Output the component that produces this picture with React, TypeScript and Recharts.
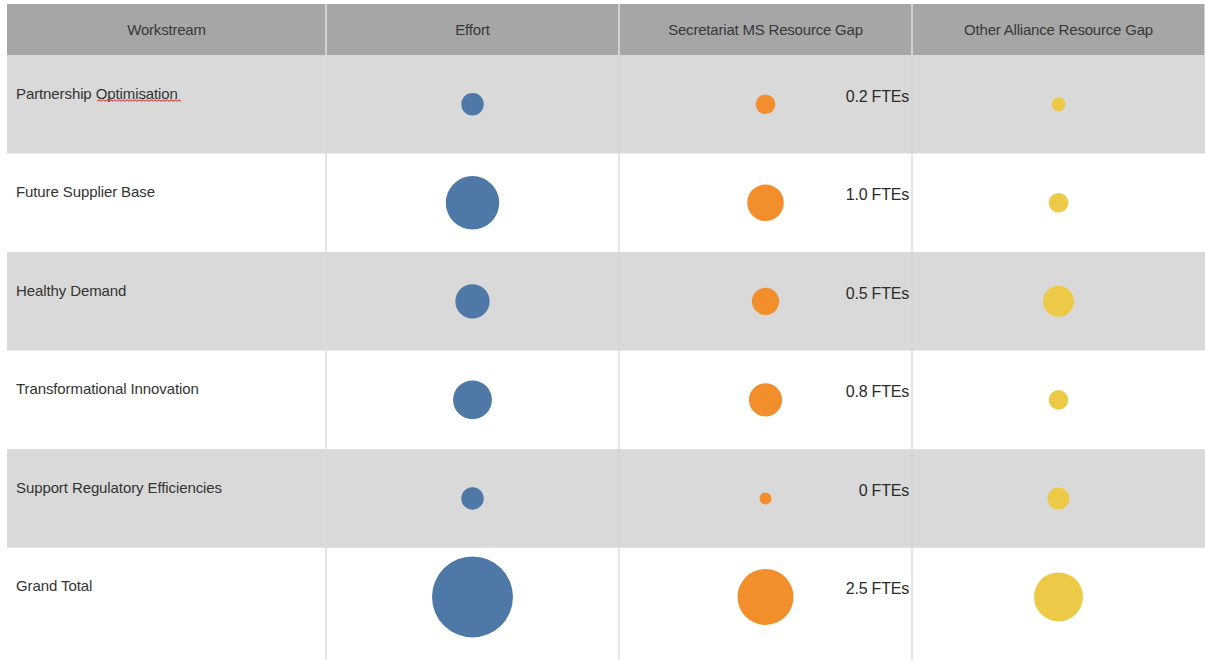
import { ScatterChart, Scatter, XAxis, YAxis, ZAxis, ReferenceArea, ReferenceLine } from "recharts";

const workstreams = [
  "Partnership Optimisation",
  "Future Supplier Base",
  "Healthy Demand",
  "Transformational Innovation",
  "Support Regulatory Efficiencies",
  "Grand Total",
];
const columns = ["Effort", "Secretariat MS Resource Gap", "Other Alliance Resource Gap"];
const effort = [1.5, 8.5, 3.5, 4.5, 1.5, 19.5];
const secretariatFtes = [0.2, 1.0, 0.5, 0.8, 0, 2.5];
const otherAllianceGap = [0.1, 0.2, 0.5, 0.2, 0.25, 1.25];

const toPoints = (values: number[], col: number) =>
  values.map((value, row) => ({ col, row, value }));

const effortData = toPoints(effort, 1);
const secretariatData = toPoints(secretariatFtes, 2);
const otherData = toPoints(otherAllianceGap, 3);

const W = 1205;
const H = 660;
const TABLE_LEFT = 7;
const TABLE_TOP = 4;
const HEADER_H = 51;
const LABEL_W = 319;
const PLOT_W = W - TABLE_LEFT - LABEL_W;
const COL_W = PLOT_W / 3;
const Y_DOMAIN: [number, number] = [-0.5, 5.64];
const ROW_H = (H - TABLE_TOP - HEADER_H) / (Y_DOMAIN[1] - Y_DOMAIN[0]);

const BAND = "#d9d9d9";
const HEADER_BG = "#a6a6a6";
const DIVIDER = "#d4d4d4";
const FONT = '"Liberation Sans", Arial, sans-serif';

// spell-check squiggle under "Optimisation"
const squiggle = (x0: number, x1: number, y: number) => {
  let d = `M${x0},${y}`;
  for (let x = x0, up = true; x < x1; x += 2, up = !up) d += ` L${x + 2},${y + (up ? -1.5 : 0)}`;
  return d;
};

function HeaderTick(props: any) {
  const { x, payload } = props;
  return (
    <g>
      <rect x={x - COL_W / 2 + 0.5} y={TABLE_TOP} width={COL_W - 1} height={HEADER_H} fill={HEADER_BG} />
      <text x={x} y={TABLE_TOP + 25} textAnchor="middle" dominantBaseline="central" fontFamily={FONT} fontSize={15} letterSpacing={-0.2} fill="#383838">
        {columns[payload.value - 1]}
      </text>
    </g>
  );
}

function RowTick(props: any) {
  const { y, payload } = props;
  const i = payload.value;
  const ty = y - 11;
  return (
    <g>
      {i % 2 === 0 ? <rect x={TABLE_LEFT} y={y - ROW_H / 2} width={LABEL_W - 0.5} height={ROW_H} fill={BAND} /> : null}
      <text x={TABLE_LEFT + 9} y={ty} textAnchor="start" dominantBaseline="central" fontFamily={FONT} fontSize={15} letterSpacing={-0.1} fill="#333">
        {workstreams[i]}
      </text>
      {i === 0 ? <path d={squiggle(TABLE_LEFT + 90, TABLE_LEFT + 174, ty + 8)} stroke="#d42020" strokeWidth={1} fill="none" /> : null}
    </g>
  );
}

function WorkstreamHeader() {
  return (
    <g>
      <rect x={TABLE_LEFT} y={TABLE_TOP} width={LABEL_W - 0.5} height={HEADER_H} fill={HEADER_BG} />
      <text x={TABLE_LEFT + LABEL_W / 2} y={TABLE_TOP + 25} textAnchor="middle" dominantBaseline="central" fontFamily={FONT} fontSize={15} letterSpacing={-0.2} fill="#383838">
        Workstream
      </text>
    </g>
  );
}

function FteBubble(props: any) {
  const { cx, cy, width, payload } = props;
  const v = payload.value;
  return (
    <g>
      <circle cx={cx} cy={cy} r={width / 2} fill="#f28e2b" />
      <text x={cx + COL_W / 2 - 3} y={cy - 8} textAnchor="end" dominantBaseline="central" fontFamily={FONT} fontSize={16} letterSpacing={-0.2} fill="#2b2b2b">
        {(v === 0 ? "0" : v.toFixed(1)) + " FTEs"}
      </text>
    </g>
  );
}

export default function App() {
  return (
    <div style={{ position: "absolute", left: 0, top: 0, width: W, height: H, background: "#fff" }}>
      <ScatterChart width={W} height={H} margin={{ top: TABLE_TOP, right: 0, bottom: 0, left: TABLE_LEFT }}>
        <XAxis
          type="number"
          dataKey="col"
          domain={[0.5, 3.5]}
          ticks={[1, 2, 3]}
          orientation="top"
          height={HEADER_H}
          axisLine={false}
          tickLine={false}
          tick={<HeaderTick />}
          interval={0}
        />
        <YAxis
          type="number"
          dataKey="row"
          domain={Y_DOMAIN}
          ticks={[0, 1, 2, 3, 4, 5]}
          reversed
          width={LABEL_W}
          axisLine={false}
          tickLine={false}
          tick={<RowTick />}
          interval={0}
          label={{ content: () => <WorkstreamHeader /> }}
        />
        <ZAxis zAxisId="effort" type="number" dataKey="value" domain={[0, 20]} range={[0, 5280]} />
        <ZAxis zAxisId="fte" type="number" dataKey="value" domain={[0, 2.5]} range={[113, 2463]} />
        <ZAxis zAxisId="other" type="number" dataKey="value" domain={[0, 1.25]} range={[0, 1885]} />
        {[0, 2, 4].map((i) => (
          <ReferenceArea key={i} y1={i - 0.5} y2={i + 0.5} fill={BAND} fillOpacity={1} stroke="none" />
        ))}
        {[0.5, 1.5, 2.5].map((x) => (
          <ReferenceLine key={x} x={x} stroke={DIVIDER} strokeWidth={1.2} />
        ))}
        <Scatter data={effortData} zAxisId="effort" fill="#4e79a7" isAnimationActive={false} />
        <Scatter data={secretariatData} zAxisId="fte" fill="#f28e2b" shape={<FteBubble />} isAnimationActive={false} />
        <Scatter data={otherData} zAxisId="other" fill="#edc948" isAnimationActive={false} />
      </ScatterChart>
    </div>
  );
}
